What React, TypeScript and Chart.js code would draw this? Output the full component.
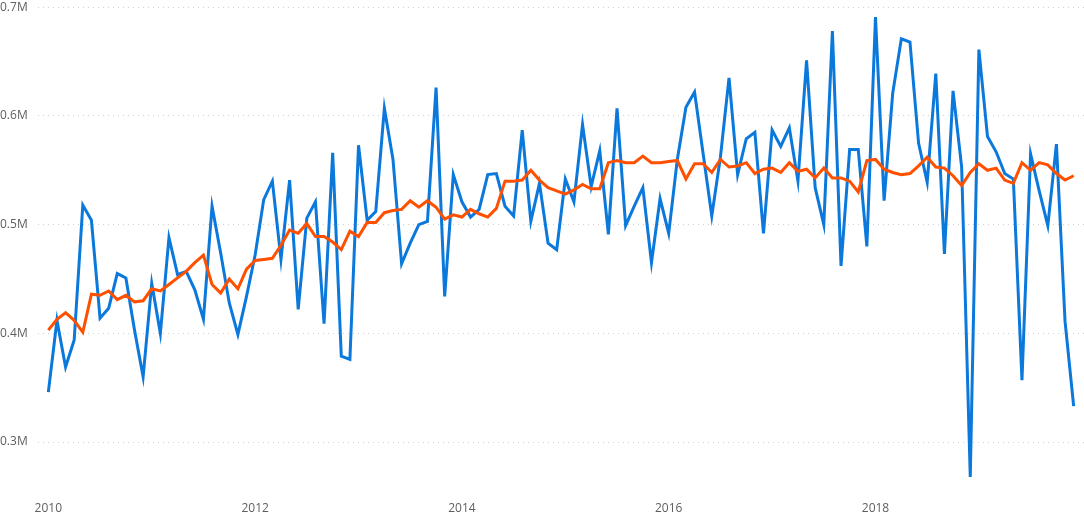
import { useEffect, useRef } from 'react'
import Chart from 'chart.js/auto'

// monthly values, Jan 2010 .. Dec 2019, in thousands
const actual = [
  346, 412, 369, 394, 518, 504, 414, 423, 455, 451, 403, 360,
  446, 400, 488, 454, 457, 440, 413, 517, 474, 428, 399, 434,
  472, 523, 540, 468, 541, 422, 506, 521, 409, 566, 379, 376,
  573, 504, 512, 607, 560, 464, 483, 500, 503, 626, 434, 546,
  521, 507, 514, 546, 547, 517, 508, 587, 503, 538, 483, 477,
  542, 521, 592, 535, 568, 491, 607, 499, 517, 534, 465, 524,
  492, 560, 608, 622, 565, 508, 562, 635, 546, 579, 585, 492,
  587, 572, 589, 540, 651, 534, 500, 678, 462, 569, 569, 480,
  691, 522, 621, 671, 668, 575, 539, 639, 473, 623, 553, 268,
  661, 581, 567, 547, 542, 357, 565, 531, 499, 574, 411, 333,
]

const smoothed = [
  403, 413, 419, 412, 401, 436, 435, 439, 431, 435, 429, 430,
  441, 439, 445, 451, 457, 465, 472, 445, 437, 450, 441, 459,
  467, 468, 469, 481, 495, 492, 501, 489, 489, 484, 477, 494,
  489, 502, 502, 511, 513, 514, 522, 516, 522, 516, 505, 509,
  507, 514, 510, 507, 515, 540, 540, 541, 550, 541, 534, 531,
  528, 532, 537, 533, 533, 557, 559, 557, 557, 563, 557, 557,
  558, 559, 542, 556, 556, 548, 560, 553, 554, 557, 547, 551,
  552, 548, 557, 549, 551, 543, 552, 543, 543, 540, 530, 559,
  560, 551, 548, 546, 547, 554, 562, 553, 552, 545, 536, 548,
  556, 550, 552, 541, 538, 557, 550, 557, 555, 547, 541, 545,
]

const startYear = 2010
const yearTicks = [2010, 2012, 2014, 2016, 2018]
const valueTicks = [300, 400, 500, 600, 700]

const font = { family: '"Open Sans", "Segoe UI", sans-serif', size: 12 }

export default function App() {
  const ref = useRef<HTMLCanvasElement>(null)

  useEffect(() => {
    if (!ref.current) return
    const pts = (arr: number[]) => arr.map((v, i) => ({ x: i, y: v }))
    const chart = new Chart(ref.current, {
      type: 'line',
      data: {
        datasets: [
          { label: 'Trend', data: pts(smoothed), borderColor: '#FF5000', borderWidth: 3, pointRadius: 0, tension: 0, order: 0 },
          { label: 'Value', data: pts(actual), borderColor: '#0B78DC', borderWidth: 3, pointRadius: 0, tension: 0, order: 1 },
        ],
      },
      options: {
        animation: false,
        responsive: false,
        layout: { padding: 0 },
        plugins: { legend: { display: false }, tooltip: { enabled: false } },
        scales: {
          x: {
            type: 'linear',
            min: -1.2,
            max: 120.2,
            afterBuildTicks: (axis: any) => {
              axis.ticks = yearTicks.map(y => ({ value: (y - startYear) * 12 }))
            },
            afterFit: (axis: any) => {
              axis.height = 28
            },
            grid: { display: false, drawTicks: false },
            border: { display: false },
            ticks: {
              color: '#605E5C',
              font,
              padding: 10,
              maxRotation: 0,
              callback: (v: any) => String(startYear + Math.round(Number(v) / 12)),
            },
          },
          y: {
            min: 255,
            max: 700,
            afterBuildTicks: (axis: any) => {
              axis.ticks = valueTicks.map(v => ({ value: v }))
            },
            afterFit: (axis: any) => {
              axis.width = 38
            },
            border: { display: false, dash: [1, 4] },
            grid: { color: '#CFCFCF', lineWidth: 1, drawTicks: false },
            ticks: {
              color: '#605E5C',
              font,
              padding: 0,
              crossAlign: 'far',
              callback: (v: any) => (Number(v) / 1000).toFixed(1) + 'M',
            },
          },
        },
      },
    } as any)
    return () => chart.destroy()
  }, [])

  return (
    <div style={{ position: 'absolute', left: 0, top: 0, width: 1084, height: 519, background: '#fff' }}>
      <canvas ref={ref} width={1084} height={519} style={{ display: 'block' }} />
    </div>
  )
}
